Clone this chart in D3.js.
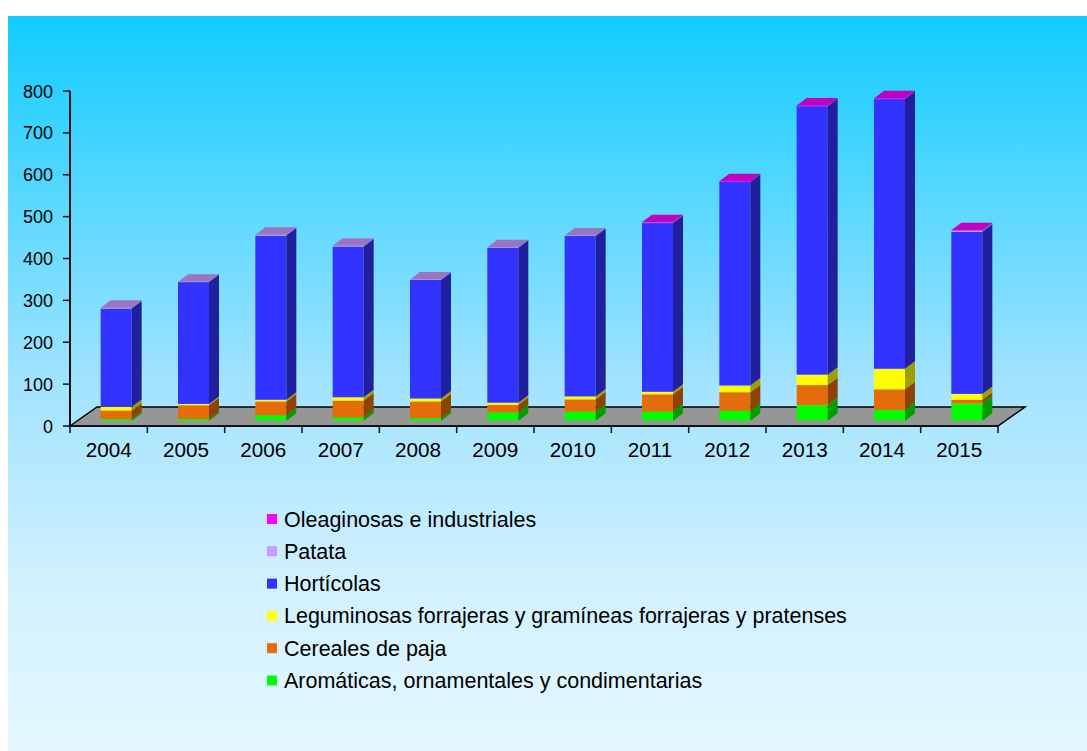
<!DOCTYPE html>
<html>
<head>
<meta charset="utf-8">
<script src="https://cdn.jsdelivr.net/npm/d3@7/dist/d3.min.js"></script>
<style>
  body { margin: 0; background: #fff; }
  text { font-family: "Liberation Sans", Arial, sans-serif; fill: #000; }
</style>
</head>
<body>
<svg id="chart" width="1087" height="751"></svg>
<script>
// values (stacked)
const years = ["2004","2005","2006","2007","2008","2009","2010","2011","2012","2013","2014","2015"];
const aromaticas  = [4, 4, 13, 8, 6, 20, 22, 22, 24, 37, 26, 41];
const cereales    = [20, 33, 33, 40, 40, 18, 29, 41, 44, 48, 49, 9];
const leguminosas = [9, 3, 4, 8, 7, 5, 7, 6, 16, 25, 49, 14];
const horticolas  = [235, 291, 392, 360, 283, 370, 383, 403, 486, 641, 644, 387];
const patata      = [2, 1, 2, 2, 1, 1, 1, 1, 0, 0, 0, 3];
const oleaginosas = [0, 0, 0, 0, 0, 0, 0, 1, 2, 2, 2, 1];
const yTicks = [0, 100, 200, 300, 400, 500, 600, 700, 800];

const seriesNames = ["Aromáticas, ornamentales y condimentarias", "Cereales de paja",
  "Leguminosas forrajeras y gramíneas forrajeras y pratenses", "Hortícolas", "Patata",
  "Oleaginosas e industriales"];
const seriesValues = [aromaticas, cereales, leguminosas, horticolas, patata, oleaginosas];
const seriesColors = ["#00ff00", "#e46c0a", "#ffff00", "#3333ff", "#cc99ff", "#ff00ff"];

const svg = d3.select("#chart");

// background
var defs = svg.append("defs");
var grad = defs.append("linearGradient").attr("id","bg").attr("x1",0).attr("y1",0).attr("x2",0).attr("y2",1);
grad.append("stop").attr("offset","0").attr("stop-color","#10ccff");
grad.append("stop").attr("offset","0.5").attr("stop-color","#a2e3ff");
grad.append("stop").attr("offset","0.78").attr("stop-color","#d2f1ff");
grad.append("stop").attr("offset","1").attr("stop-color","#e4f8ff");
svg.append("rect").attr("x",8).attr("y",16).attr("width",1079).attr("height",735).attr("fill","url(#bg)");

// scales
const x = d3.scaleBand().domain(years).range([70, 998]).padding(0);
const y = d3.scaleLinear().domain([0, 800]).range([426, 91]);

// 3d offsets
const floorDx = 27, floorDy = -19;
const barOx = 7.5, barOy = -5.3;
const barDx = 10, barDy = -7.5;
const barW = 31;

// floor
svg.append("path")
  .attr("d", "M" + x.range()[0] + "," + y(0) + " l" + floorDx + "," + floorDy +
             " L" + (x.range()[1] + floorDx) + "," + (y(0) + floorDy) +
             " L" + x.range()[1] + "," + y(0) + " Z")
  .attr("fill","#969696").attr("stroke","#000").attr("stroke-width",1.5);

// stacked data
const rows = years.map(function(yr, i){
  var r = {year: yr};
  seriesNames.forEach(function(n, k){ r[n] = seriesValues[k][i]; });
  return r;
});
const stacked = d3.stack().keys(seriesNames)(rows);

function shade(c, f){
  var col = d3.rgb(c);
  return d3.rgb(col.r*f, col.g*f, col.b*f).formatHex();
}

years.forEach(function(yr, i){
  var g = svg.append("g");
  var x0 = x(yr) + x.bandwidth()/2 - barW/2 + barOx;
  var x1 = x0 + barW;
  // which series is on top (last non-zero)
  var topK = 0;
  seriesValues.forEach(function(v, k){ if (v[i] > 0) topK = k; });
  stacked.forEach(function(s, k){
    var d = s[i];
    if (d[1] - d[0] <= 0) return;
    var yb = y(d[0]) + barOy, yt = y(d[1]) + barOy;
    var c = seriesColors[k];
    g.append("rect").attr("x",x0).attr("y",yt).attr("width",barW).attr("height",yb-yt).attr("fill",c);
    g.append("path")
      .attr("d","M"+x1+","+yb+" L"+x1+","+yt+" l"+barDx+","+barDy+" L"+(x1+barDx)+","+(yb+barDy)+" Z")
      .attr("fill", shade(c, 0.62));
    if (k === topK) {
      g.append("path")
        .attr("d","M"+x0+","+yt+" L"+x1+","+yt+" l"+barDx+","+barDy+" L"+(x0+barDx)+","+(yt+barDy)+" Z")
        .attr("fill", shade(c, 0.76));
    }
  });
});

// y axis
svg.append("line").attr("x1",70).attr("x2",70).attr("y1",y(800)).attr("y2",y(0))
  .attr("stroke","#111").attr("stroke-width",2);
svg.append("g").selectAll("line").data(yTicks).join("line")
  .attr("x1",63).attr("x2",70).attr("y1",d=>y(d)).attr("y2",d=>y(d))
  .attr("stroke","#111").attr("stroke-width",1.5);
svg.append("g").selectAll("text").data(yTicks).join("text")
  .attr("x",53).attr("y",d=>y(d)+6.5).attr("text-anchor","end")
  .style("font-size","18px").text(d=>d);

// x axis
svg.append("line").attr("x1",70).attr("x2",998).attr("y1",y(0)).attr("y2",y(0))
  .attr("stroke","#111").attr("stroke-width",2);
const bounds = years.map(d=>x(d)).concat([x.range()[1]]);
svg.append("g").selectAll("line").data(bounds).join("line")
  .attr("x1",d=>d).attr("x2",d=>d).attr("y1",y(0)).attr("y2",y(0)+7)
  .attr("stroke","#111").attr("stroke-width",1.5);
svg.append("g").selectAll("text").data(years).join("text")
  .attr("x",d=>x(d)+x.bandwidth()/2).attr("y",457).attr("text-anchor","middle")
  .style("font-size","20.7px").text(d=>d);

// legend (top to bottom reversed order)
const legendOrder = d3.range(seriesNames.length).reverse();
const leg = svg.append("g");
legendOrder.forEach(function(k, j){
  var ly = 519 + j*32.3;
  leg.append("rect").attr("x",267).attr("y",ly-5).attr("width",10).attr("height",10).attr("fill",seriesColors[k]);
  leg.append("text").attr("x",284).attr("y",ly+7.5).style("font-size","21.5px").text(seriesNames[k]);
});
</script>
</body>
</html>
